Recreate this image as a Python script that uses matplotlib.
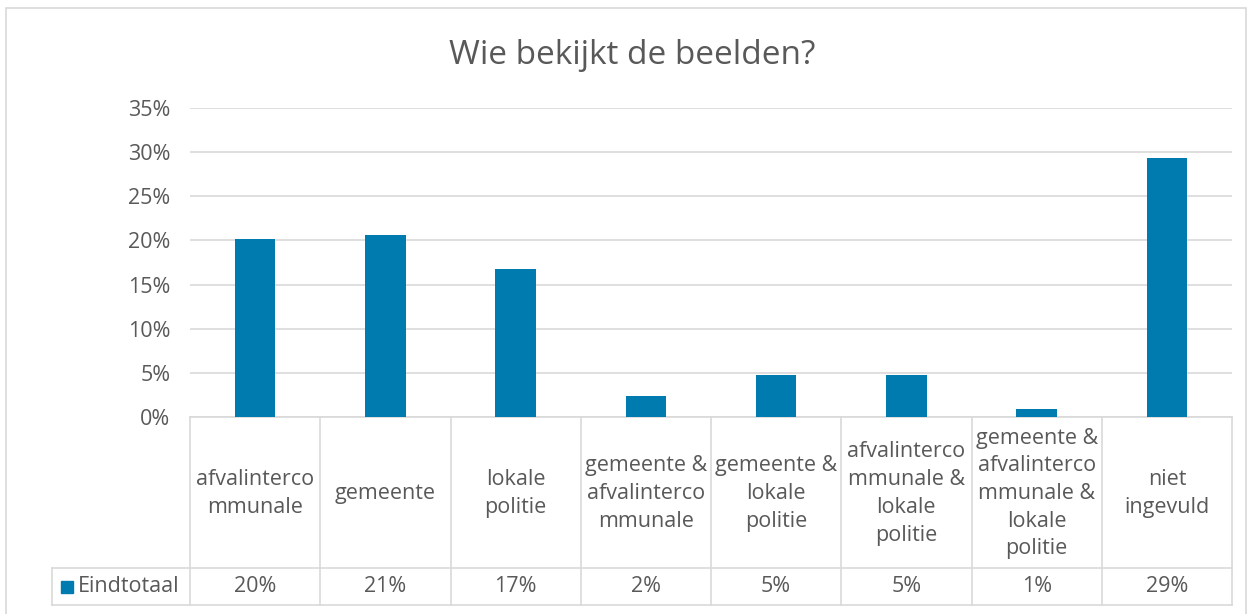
import numpy as np
import matplotlib.pyplot as plt
from matplotlib.patches import Rectangle

plt.rcParams['font.family'] = ['Open Sans', 'DejaVu Sans']

# data
categories = ['afvalinterco\nmmunale', 'gemeente', 'lokale\npolitie',
              'gemeente &\nafvalinterco\nmmunale', 'gemeente &\nlokale\npolitie',
              'afvalinterco\nmmunale &\nlokale\npolitie',
              'gemeente &\nafvalinterco\nmmunale &\nlokale\npolitie',
              'niet\ningevuld']
values = [0.202, 0.206, 0.168, 0.024, 0.048, 0.048, 0.009, 0.293]
value_labels = ['20%', '21%', '17%', '2%', '5%', '5%', '1%', '29%']
series_name = 'Eindtotaal'
yticks = [0, 0.05, 0.10, 0.15, 0.20, 0.25, 0.30, 0.35]

W, H = 1248, 614
bar_col = '#007BAF'
txt_col = '#595959'
grid_col = '#D9D9D9'
fs = 15.5

fig = plt.figure(figsize=(W / 100, H / 100), dpi=100)

def box(x0, y0, x1, y1):
    # pixel box (top-left origin) -> figure fraction
    return [x0 / W, 1 - y1 / H, (x1 - x0) / W, (y1 - y0) / H]

# outer chart border
fig.patches.append(Rectangle((6 / W, -0.01), (1240) / W, 1 - 8 / H + 0.01,
                             transform=fig.transFigure, fill=False,
                             edgecolor=grid_col, lw=1.2))

fig.text(632 / W, 1 - 55 / H, 'Wie bekijkt de beelden?', ha='center', va='center',
         fontsize=24, color=txt_col)

# main plot
px_left, px_right, px_top, px_zero = 190, 1232, 108, 417
ax = fig.add_axes(box(px_left, px_top, px_right, px_zero))
x = np.arange(len(categories))
ax.bar(x, values, width=0.31, color=bar_col, zorder=3)
ax.set_xlim(-0.5, len(categories) - 0.5)
ax.set_ylim(0, 0.35)
ax.set_yticks(yticks)
ax.set_yticklabels([f'{int(round(t * 100))}%' for t in yticks])
ax.yaxis.grid(True, color=grid_col, lw=1.2, zorder=0)
ax.tick_params(axis='y', length=0, pad=14, labelsize=fs, labelcolor=txt_col)
ax.set_xticks([])
for s in ['top', 'right', 'left']:
    ax.spines[s].set_visible(False)
ax.spines['bottom'].set_color(grid_col)
ax.spines['bottom'].set_linewidth(1.2)

# data table below
tab_left, row_split, tab_bottom = 52, 568, 605
cell_w = (px_right - px_left) / len(categories)
tax = fig.add_axes(box(tab_left, px_zero, px_right, tab_bottom))
tax.set_xlim(-0.5 - (px_left - tab_left) / cell_w, len(categories) - 0.5)
tax.set_ylim(tab_bottom - px_zero, 0)
tax.axis('off')
split = row_split - px_zero
bottom = tab_bottom - px_zero
lk = dict(color=grid_col, lw=1.2, clip_on=False)
for i in range(len(categories) + 1):
    tax.plot([i - 0.5, i - 0.5], [0, bottom], **lk)
tax.plot([tax.get_xlim()[0]] * 2, [split, bottom], **lk)
tax.plot([tax.get_xlim()[0], len(categories) - 0.5], [split, split], **lk)
tax.plot([tax.get_xlim()[0], len(categories) - 0.5], [bottom, bottom], **lk)

for i, (c, v) in enumerate(zip(categories, value_labels)):
    tax.text(i, split / 2 + 1, c, ha='center', va='center', fontsize=fs,
             color=txt_col, linespacing=1.42)
    tax.text(i, (split + bottom) / 2, v, ha='center', va='center', fontsize=fs,
             color=txt_col)

# legend key in the table
lx = tax.get_xlim()[0]
tax.add_patch(Rectangle((lx + 9 / cell_w, (split + bottom) / 2 - 6), 12 / cell_w, 12,
                        color=bar_col, clip_on=False))
tax.text(lx + 26 / cell_w, (split + bottom) / 2, series_name, ha='left', va='center',
         fontsize=fs, color=txt_col)

fig.savefig('out.png', dpi=100)
